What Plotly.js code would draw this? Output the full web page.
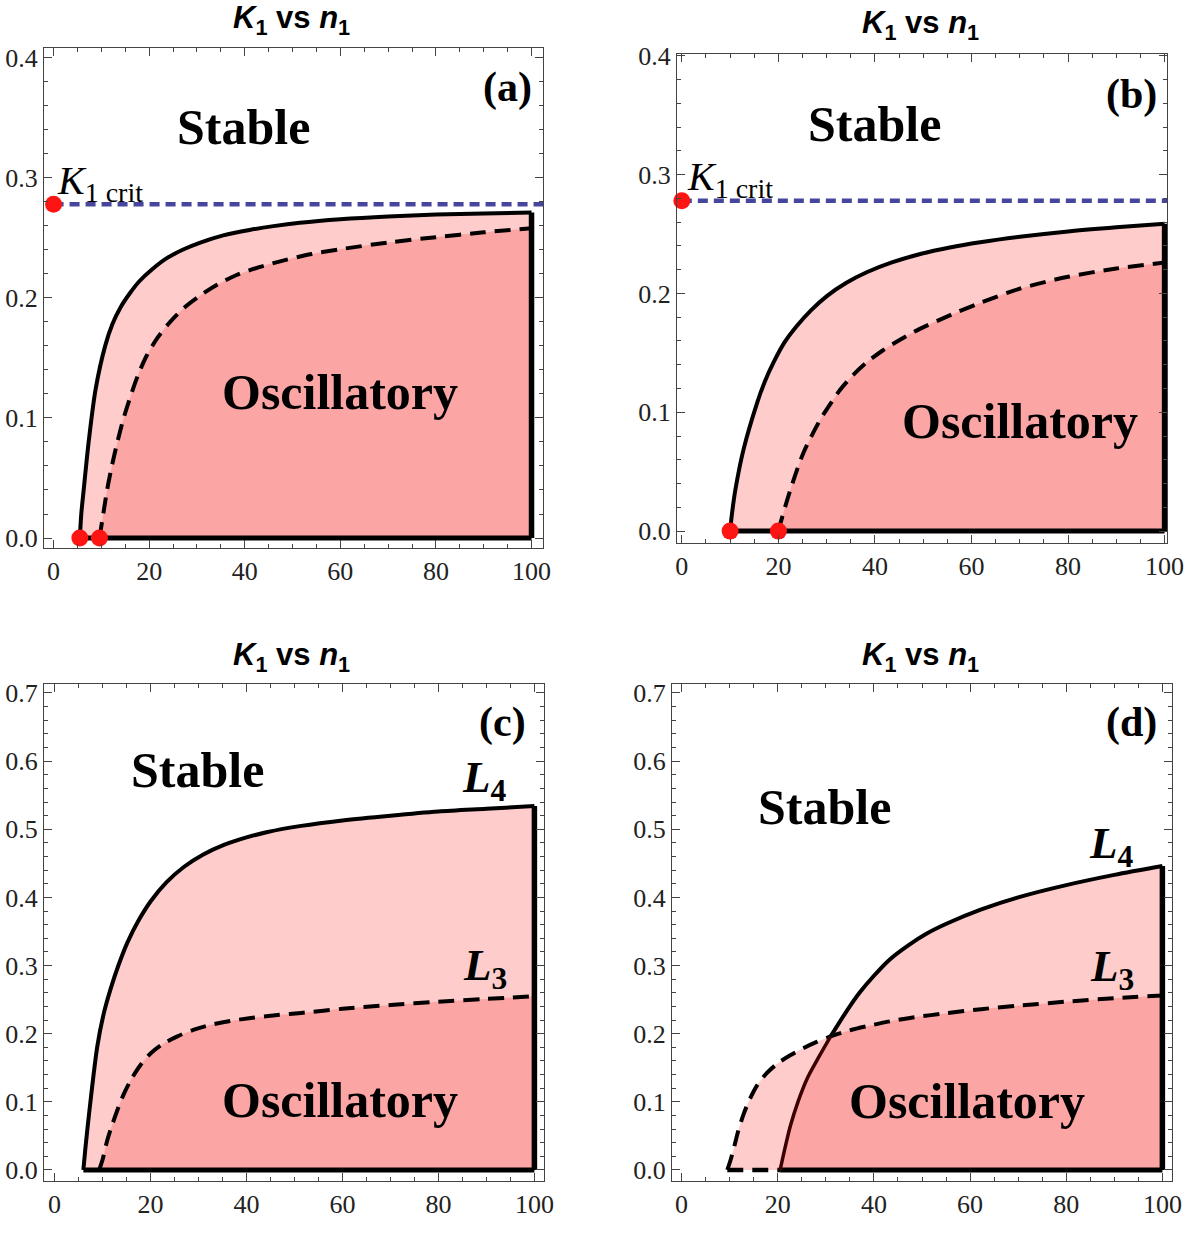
<!DOCTYPE html>
<html>
<head>
<meta charset="utf-8">
<script src="https://cdn.plot.ly/plotly-3.0.1.min.js"></script>
<style>
html, body { margin: 0; padding: 0; background: #fff; }
#plot { width: 1200px; height: 1236px; }
</style>
</head>
<body>
<div id="plot"></div>
<script>
// values (n1 on x, K1 on y)
const k1_crit = 0.278;

// (a)
const a_n4 = [5.5, 5.8, 6.3, 7.4, 8.8, 10.8, 12.3, 14, 16, 18, 20.7, 23.7, 27, 30.7, 35.5, 41, 46, 51.5, 60, 70, 80, 90, 100];
const a_k4 = [0, 0.02, 0.040, 0.082, 0.124, 0.160, 0.178, 0.192, 0.204, 0.214, 0.224, 0.233, 0.240, 0.246, 0.252, 0.2565, 0.2597, 0.2625, 0.2655, 0.2678, 0.2693, 0.2703, 0.271];
const a_n3 = [9.6, 10.4, 11.2, 12.2, 13.3, 14.6, 16.1, 17.7, 19.5, 21.8, 24.4, 27.4, 30.7, 34.3, 38.3, 43, 48, 54, 60, 70, 80, 90, 100];
const a_k3 = [0, 0.02, 0.040, 0.060, 0.079, 0.099, 0.118, 0.136, 0.152, 0.167, 0.180, 0.192, 0.202, 0.211, 0.219, 0.2255, 0.231, 0.2365, 0.2405, 0.246, 0.2505, 0.2545, 0.258];
const a_dots_n = [0, 5.5, 9.6];
const a_dots_k = [k1_crit, 0, 0];

// (b)
const b_n4 = [10, 10.4, 11.1, 12.8, 15.6, 17.2, 19, 21.3, 23.9, 26.8, 30.1, 34, 38.3, 43.5, 49.4, 55.5, 61.8, 70, 80, 90, 100];
const b_k4 = [0, 0.015, 0.035, 0.069, 0.108, 0.126, 0.142, 0.159, 0.173, 0.186, 0.198, 0.2088, 0.2178, 0.2261, 0.2332, 0.2387, 0.2431, 0.2477, 0.2522, 0.2557, 0.2587];
const b_n3 = [20, 20.8, 22.5, 25.2, 28.7, 30.6, 32.8, 35.4, 38.3, 41.6, 45.2, 49.2, 53.5, 57.5, 61.8, 70, 80, 90, 100];
const b_k3 = [0, 0.012, 0.035, 0.066, 0.094, 0.106, 0.119, 0.131, 0.142, 0.152, 0.161, 0.170, 0.178, 0.185, 0.192, 0.204, 0.214, 0.221, 0.226];
const b_dots_n = [0, 10, 20];
const b_dots_k = [k1_crit, 0, 0];

// (c)
const c_n4 = [6, 6.4, 7.2, 8.9, 10.2, 11.7, 13.3, 15.2, 17.5, 20, 23.3, 27, 31, 35.3, 40, 44.4, 51.4, 60, 70, 80, 90, 100];
const c_k4 = [0, 0.03, 0.083, 0.181, 0.228, 0.266, 0.300, 0.334, 0.366, 0.394, 0.422, 0.445, 0.463, 0.477, 0.488, 0.496, 0.505, 0.513, 0.520, 0.526, 0.530, 0.534];
const c_n3 = [9.3, 10, 11, 12, 13.1, 14.4, 15.9, 17.8, 20, 22.6, 25.6, 28.9, 32.6, 36.6, 40.9, 46, 51.4, 60, 70, 80, 90, 100];
const c_k3 = [0, 0.015, 0.044, 0.066, 0.088, 0.111, 0.132, 0.153, 0.171, 0.185, 0.196, 0.2055, 0.213, 0.2185, 0.223, 0.227, 0.2305, 0.2365, 0.242, 0.247, 0.251, 0.255];

// (d)
const d_n4 = [20.5, 21.4, 22.6, 24.2, 26.1, 28.4, 31, 34.5, 37, 40, 43.3, 47, 51, 55.3, 62.2, 70, 80, 90, 100];
const d_k4 = [0, 0.029, 0.064, 0.100, 0.134, 0.164, 0.196, 0.235, 0.260, 0.285, 0.309, 0.329, 0.347, 0.362, 0.382, 0.400, 0.418, 0.433, 0.446];
const d_n3 = [9.5, 10.2, 10.9, 11.8, 12.9, 14.2, 15.7, 17.7, 19.9, 22.5, 25.4, 28.1, 31, 34.5, 38.6, 43.3, 48.4, 55, 62.3, 70, 80, 90, 100];
const d_k3 = [0, 0.015, 0.033, 0.058, 0.082, 0.104, 0.124, 0.142, 0.156, 0.168, 0.179, 0.188, 0.196, 0.204, 0.211, 0.218, 0.224, 0.230, 0.236, 0.241, 0.247, 0.252, 0.256];
const d_cross = 31;

const LIGHT = 'rgb(255,204,204)';
const DARK = 'rgb(252,165,165)';
const BLUE = 'rgb(70,70,158)';
const SERIF = 'Liberation Serif, Times New Roman, serif';
const DASH = '16px,9px';

function fill_under(xa, ya, n, k, color) {
    return {
        x: n, y: k, xaxis: xa, yaxis: ya, type: 'scatter', mode: 'lines',
        fill: 'tozeroy', fillcolor: color,
        line: {width: 0, shape: 'spline', smoothing: 0.8},
        hoverinfo: 'skip'
    };
}

function line(xa, ya, n, k, dash, width, color, smooth) {
    return {
        x: n, y: k, xaxis: xa, yaxis: ya, type: 'scatter', mode: 'lines',
        line: {color: color || '#000', width: width, dash: dash || 'solid', shape: smooth ? 'spline' : 'linear', smoothing: 0.8},
        hoverinfo: 'skip'
    };
}

function dots(xa, ya, n, k) {
    return {
        x: n, y: k, xaxis: xa, yaxis: ya, type: 'scatter', mode: 'markers',
        marker: {color: 'rgb(255,20,20)', size: 17},
        cliponaxis: false, hoverinfo: 'skip'
    };
}

function last(arr) { return arr[arr.length - 1]; }

// panels a, b, c: L4 above L3 everywhere
function simple_panel(xa, ya, n4, k4, n3, k3) {
    const nr = last(n4);
    return [
        fill_under(xa, ya, n4, k4, LIGHT),
        fill_under(xa, ya, n3, k3, DARK),
        line(xa, ya, [n4[0], nr], [0, 0], 'solid', 5),
        line(xa, ya, [nr, nr], [0, Math.max(last(k4), last(k3))], 'solid', 5.5),
        line(xa, ya, n3, k3, DASH, 4, '#000', true),
        line(xa, ya, n4, k4, 'solid', 4, '#000', true)
    ];
}

let data = [];
data = data.concat(simple_panel('x', 'y', a_n4, a_k4, a_n3, a_k3));
data.push(line('x', 'y', [0, 102.4], [k1_crit, k1_crit], '10px,6px', 4.5, BLUE));
data.push(dots('x', 'y', a_dots_n, a_dots_k));

data = data.concat(simple_panel('x2', 'y2', b_n4, b_k4, b_n3, b_k3));
data.push(line('x2', 'y2', [0, 100.5], [k1_crit, k1_crit], '10px,6px', 4.5, BLUE));
data.push(dots('x2', 'y2', b_dots_n, b_dots_k));

data = data.concat(simple_panel('x3', 'y3', c_n4, c_k4, c_n3, c_k3));

// panel d: curves cross, dark region lies under the lower one
const d4_lo_n = d_n4.filter(v => v <= d_cross), d4_lo_k = d_k4.filter((v, i) => d_n4[i] <= d_cross);
const d4_hi_n = d_n4.filter(v => v >= d_cross), d4_hi_k = d_k4.filter((v, i) => d_n4[i] >= d_cross);
const d3_hi_n = d_n3.filter(v => v >= d_cross), d3_hi_k = d_k3.filter((v, i) => d_n3[i] >= d_cross);
data.push(fill_under('x4', 'y4', d_n3, d_k3, LIGHT));
data.push(fill_under('x4', 'y4', d_n4, d_k4, LIGHT));
data.push(fill_under('x4', 'y4', d4_lo_n, d4_lo_k, DARK));
data.push(fill_under('x4', 'y4', d3_hi_n, d3_hi_k, DARK));
data.push(line('x4', 'y4', [d_cross, d_cross], [0, last(d4_lo_k)], 'solid', 3, DARK));
data.push(line('x4', 'y4', [d_n3[0], d_n4[0]], [0, 0], DASH, 4.5));
data.push(line('x4', 'y4', [d_n4[0], last(d_n4)], [0, 0], 'solid', 5));
data.push(line('x4', 'y4', [last(d_n4), last(d_n4)], [0, last(d_k4)], 'solid', 5.5));
data.push(line('x4', 'y4', d_n3, d_k3, DASH, 4, '#000', true));
data.push(line('x4', 'y4', d4_lo_n, d4_lo_k, 'solid', 3.5, 'rgb(60,0,0)', true));
data.push(line('x4', 'y4', d4_hi_n, d4_hi_k, 'solid', 4, '#000', true));

function xax(range, left, right, anchor) {
    return {
        domain: [left / 1200, right / 1200], range: range, anchor: anchor,
        showgrid: false, zeroline: false,
        showline: true, linecolor: '#444', linewidth: 1, mirror: 'allticks',
        ticks: 'inside', ticklen: 8, tickcolor: '#444', tickwidth: 1,
        tick0: 0, dtick: 20,
        minor: {dtick: 5, ticks: 'inside', ticklen: 4, tickcolor: '#444'},
        tickfont: {family: SERIF, size: 26, color: '#222'}
    };
}

function yax(range, top, bottom, anchor) {
    return {
        domain: [1 - bottom / 1236, 1 - top / 1236], range: range, anchor: anchor,
        showgrid: false, zeroline: false,
        showline: true, linecolor: '#444', linewidth: 1, mirror: 'allticks',
        ticks: 'inside', ticklen: 8, tickcolor: '#444', tickwidth: 1,
        tick0: 0, dtick: 0.1, tickformat: '.1f',
        minor: {dtick: 0.02, ticks: 'inside', ticklen: 4, tickcolor: '#444'},
        tickfont: {family: SERIF, size: 26, color: '#222'}
    };
}

function label(xr, yr, x, y, text, size, xanchor) {
    return {
        xref: xr, yref: yr, x: x, y: y, text: text, showarrow: false,
        xanchor: xanchor || 'center', yanchor: 'middle',
        font: {family: SERIF, size: size, color: '#000'}
    };
}

function title(x, y) {
    return {
        xref: 'paper', yref: 'paper', x: x / 1200, y: 1 - y / 1236,
        text: '<b><i>K</i><sub>1</sub> vs <i>n</i><sub>1</sub></b>', showarrow: false,
        xanchor: 'center', yanchor: 'middle',
        font: {family: 'Liberation Sans, Arial, sans-serif', size: 31, color: '#000'}
    };
}

const annotations = [
    title(291, 20), title(920, 25), title(291, 657), title(920, 657),

    label('x', 'y', 39.8, 0.342, '<b>Stable</b>', 50),
    label('x', 'y', 59.9, 0.122, '<b>Oscillatory</b>', 50),
    label('x', 'y', 95, 0.375, '<b>(a)</b>', 42),
    label('x', 'y', 0.3, 0.296, '<i>K</i><sub>1 crit</sub>', 40, 'left'),

    label('x2', 'y2', 40, 0.343, '<b>Stable</b>', 50),
    label('x2', 'y2', 70.1, 0.093, '<b>Oscillatory</b>', 50),
    label('x2', 'y2', 93.1, 0.367, '<b>(b)</b>', 42),
    label('x2', 'y2', 0.7, 0.296, '<i>K</i><sub>1 crit</sub>', 40, 'left'),

    label('x3', 'y3', 29.7, 0.587, '<b>Stable</b>', 50),
    label('x3', 'y3', 59.5, 0.103, '<b>Oscillatory</b>', 50),
    label('x3', 'y3', 93.4, 0.657, '<b>(c)</b>', 42),
    label('x3', 'y3', 89.7, 0.572, '<b><i>L</i><sub>4</sub></b>', 45),
    label('x3', 'y3', 89.7, 0.296, '<b><i>L</i><sub>3</sub></b>', 45),

    label('x4', 'y4', 29.8, 0.533, '<b>Stable</b>', 50),
    label('x4', 'y4', 59.4, 0.101, '<b>Oscillatory</b>', 50),
    label('x4', 'y4', 93.5, 0.656, '<b>(d)</b>', 42),
    label('x4', 'y4', 89.5, 0.475, '<b><i>L</i><sub>4</sub></b>', 45),
    label('x4', 'y4', 89.5, 0.295, '<b><i>L</i><sub>3</sub></b>', 45)
];

const layout = {
    width: 1200,
    height: 1236,
    margin: {l: 0, r: 0, t: 0, b: 0},
    paper_bgcolor: '#fff',
    plot_bgcolor: '#fff',
    showlegend: false,
    xaxis: xax([-2, 102.4], 44, 543, 'y'),
    yaxis: yax([-0.0083, 0.408], 48, 548, 'x'),
    xaxis2: xax([-1, 100.5], 677, 1167, 'y2'),
    yaxis2: yax([-0.010, 0.4015], 54, 543, 'x2'),
    xaxis3: xax([-2.2, 102], 44, 544, 'y3'),
    yaxis3: yax([-0.0155, 0.7132], 684, 1180.5, 'x3'),
    xaxis4: xax([-2, 102], 672, 1172, 'y4'),
    yaxis4: yax([-0.0155, 0.7132], 684, 1180.5, 'x4'),
    annotations: annotations
};

Plotly.newPlot('plot', data, layout, {staticPlot: true});
</script>
</body>
</html>
